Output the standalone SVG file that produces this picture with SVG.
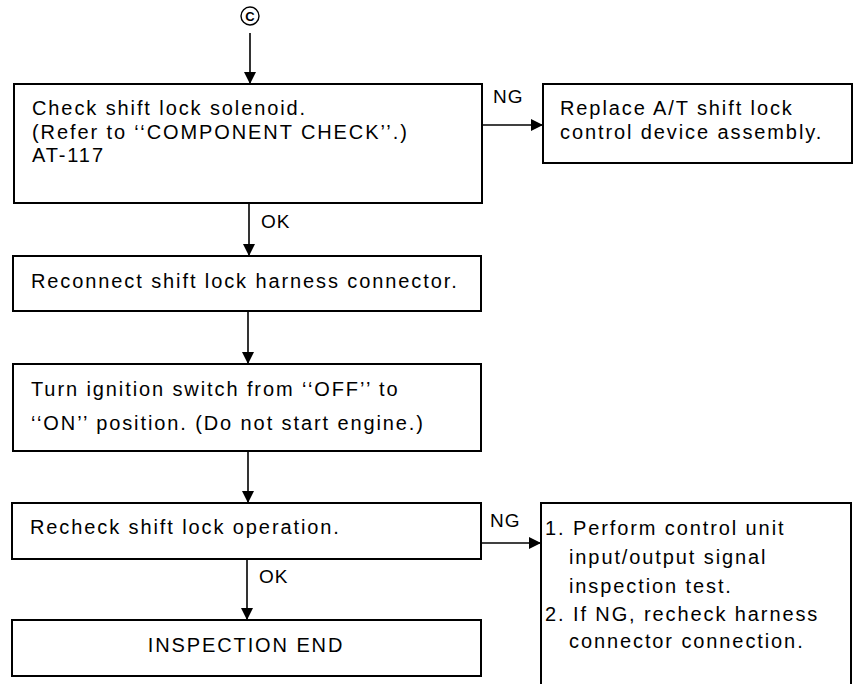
<svg xmlns="http://www.w3.org/2000/svg" width="854" height="684" viewBox="0 0 854 684">
<defs>
<style>
.box{fill:#fff;stroke:#000;stroke-width:2}
.t{font-family:"Liberation Sans",Arial,Helvetica,sans-serif;font-size:20px;letter-spacing:1.9px;fill:#000}
.lbl{font-family:"Liberation Sans",Arial,Helvetica,sans-serif;font-size:19px;letter-spacing:1px;fill:#000}
.c{fill:none;stroke:#000;stroke-width:1.6}
</style>
<marker id="ah" viewBox="0 0 12 12" refX="12" refY="6" markerWidth="12" markerHeight="12" markerUnits="userSpaceOnUse" orient="auto">
<path d="M0,0 L12,6 L0,12 Z" fill="#000"/>
</marker>
</defs>
<rect width="854" height="684" fill="#fff"/>
<g id="start">
<circle cx="250" cy="16" r="9" fill="none" stroke="#000" stroke-width="1.4"/>
<text x="250" y="21" text-anchor="middle" font-family="Liberation Sans,Arial,sans-serif" font-size="13" font-weight="bold">C</text>
</g>
<g id="connectors">
<line class="c" x1="250" y1="33" x2="250" y2="84" marker-end="url(#ah)"/>
<line class="c" x1="249" y1="203" x2="249" y2="256" marker-end="url(#ah)"/>
<line class="c" x1="248" y1="311" x2="248" y2="364" marker-end="url(#ah)"/>
<line class="c" x1="248" y1="451" x2="248" y2="503" marker-end="url(#ah)"/>
<line class="c" x1="247" y1="559" x2="247" y2="620" marker-end="url(#ah)"/>
<line class="c" x1="482" y1="125" x2="543" y2="125" marker-end="url(#ah)"/>
<line class="c" x1="481" y1="543" x2="541" y2="543" marker-end="url(#ah)"/>
<text class="lbl" x="493" y="103">NG</text>
<text class="lbl" x="261" y="228">OK</text>
<text class="lbl" x="490" y="527">NG</text>
<text class="lbl" x="259" y="583">OK</text>
</g>
<g id="n1">
<rect class="box" x="14" y="84" width="468" height="119"/>
<text class="t" x="32" y="115">Check shift lock solenoid.</text>
<text class="t" x="32" y="139">(Refer to ‘‘COMPONENT CHECK’’.)</text>
<text class="t" x="32" y="162">AT-117</text>
</g>
<g id="n2">
<rect class="box" x="543" y="84" width="309" height="79"/>
<text class="t" x="560" y="115">Replace A/T shift lock</text>
<text class="t" x="560" y="139">control device assembly.</text>
</g>
<g id="n3">
<rect class="box" x="13" y="256" width="468" height="55"/>
<text class="t" x="31" y="288">Reconnect shift lock harness connector.</text>
</g>
<g id="n4">
<rect class="box" x="13" y="364" width="468" height="87"/>
<text class="t" x="31" y="396">Turn ignition switch from ‘‘OFF’’ to</text>
<text class="t" x="31" y="430">‘‘ON’’ position. (Do not start engine.)</text>
</g>
<g id="n5">
<rect class="box" x="12" y="503" width="469" height="56"/>
<text class="t" x="30" y="534">Recheck shift lock operation.</text>
</g>
<g id="n6">
<rect class="box" x="12" y="620" width="469" height="56"/>
<text class="t" x="246" y="652" text-anchor="middle">INSPECTION END</text>
</g>
<g id="n7">
<rect class="box" x="541" y="503" width="310" height="200"/>
<text class="t" x="545" y="535">1. Perform control unit</text>
<text class="t" x="569" y="564">input/output signal</text>
<text class="t" x="569" y="593">inspection test.</text>
<text class="t" x="545" y="621">2. If NG, recheck harness</text>
<text class="t" x="569" y="648">connector connection.</text>
</g>
</svg>
